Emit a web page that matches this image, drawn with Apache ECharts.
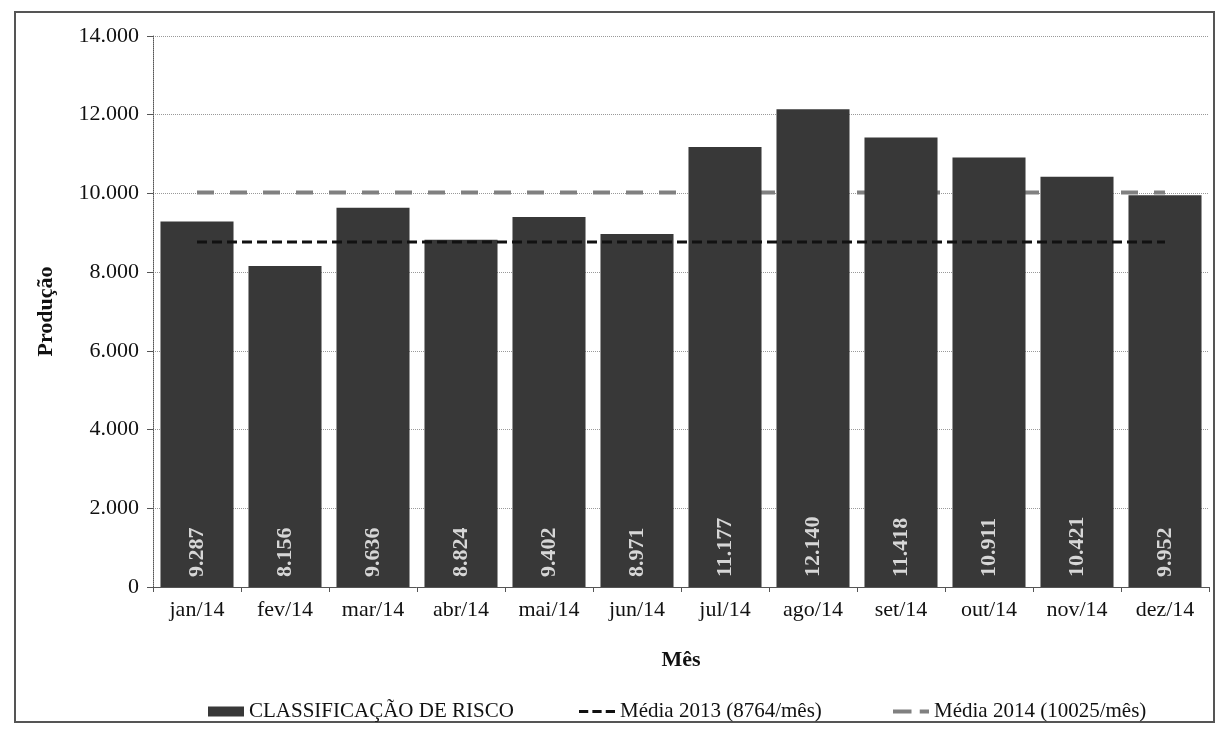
<!DOCTYPE html>
<html><head><meta charset="utf-8">
<script src="https://cdn.jsdelivr.net/npm/echarts@6/dist/echarts.min.js"></script>
<style>html,body{margin:0;padding:0;background:#fff}#c{width:1218px;height:732px}</style>
</head><body><div id="c"></div>
<script>
const categories = ['jan/14','fev/14','mar/14','abr/14','mai/14','jun/14','jul/14','ago/14','set/14','out/14','nov/14','dez/14'];
const producao = [9287, 8156, 9636, 8824, 9402, 8971, 11177, 12140, 11418, 10911, 10421, 9952];
const media2013 = [8764, 8764, 8764, 8764, 8764, 8764, 8764, 8764, 8764, 8764, 8764, 8764];
const media2014 = [10025, 10025, 10025, 10025, 10025, 10025, 10025, 10025, 10025, 10025, 10025, 10025];
const seriesNames = ['CLASSIFICAÇÃO DE RISCO', 'Média 2013 (8764/mês)', 'Média 2014 (10025/mês)'];

const fmt = v => String(v).replace(/\B(?=(\d{3})+(?!\d))/g, '.');
const F = '"Liberation Serif", "DejaVu Serif", serif';
const legendIcons = [
  'rect',
  'path://M0,0h9v3h-9z M13,0h9v3h-9z M26,0h9v3h-9z',
  'path://M0,0h18v4h-18z M26,0h9v4h-9z'
];
const legendLefts = [203, 574, 888];
const legends = seriesNames.map((n, i) => ({
  bottom: 5, left: legendLefts[i], itemWidth: 36, itemHeight: 10, itemGap: 10,
  textStyle: { fontFamily: F, fontSize: 21, color: '#111' },
  data: [{ name: n, icon: legendIcons[i] }]
}));
const chart = echarts.init(document.getElementById('c'));
chart.setOption({
  animation: false,
  textStyle: { fontFamily: F },
  graphic: [{ type: 'rect', shape: { x: 15, y: 12, width: 1199, height: 710 }, style: { fill: 'none', stroke: '#555', lineWidth: 2 } }],
  grid: { left: 153, right: 9, top: 36, bottom: 145 },
  legend: legends,
  xAxis: {
    type: 'category', data: categories,
    name: 'Mês', nameLocation: 'middle', nameGap: 62,
    nameTextStyle: { fontFamily: F, fontSize: 22, fontWeight: 'bold', color: '#111' },
    axisLine: { lineStyle: { color: '#555', width: 1 } },
    axisTick: { show: true, length: 5, lineStyle: { color: '#555' } },
    axisLabel: { fontFamily: F, fontSize: 22, color: '#111', margin: 12 }
  },
  yAxis: {
    type: 'value', min: 0, max: 14000, interval: 2000,
    name: 'Produção', nameLocation: 'middle', nameGap: 96, nameRotate: 90,
    nameTextStyle: { fontFamily: F, fontSize: 22, fontWeight: 'bold', color: '#111' },
    axisLine: { show: true, lineStyle: { color: '#555', type: 'dotted' } },
    axisTick: { show: true, length: 6, lineStyle: { color: '#555' } },
    axisLabel: { fontFamily: F, fontSize: 22, color: '#111', margin: 14, formatter: v => fmt(v) },
    splitLine: { lineStyle: { color: '#999', type: 'dotted' } }
  },
  series: [
    {
      name: seriesNames[0], type: 'bar', data: producao, barCategoryGap: '17%', z: 3,
      itemStyle: { color: '#383838' },
      label: {
        show: true, position: 'insideBottom', rotate: 90, align: 'left', verticalAlign: 'middle', distance: 10,
        color: '#d6d6d6', fontFamily: F, fontSize: 22, fontWeight: 'bold', formatter: p => fmt(p.value)
      }
    },
    {
      name: seriesNames[1], type: 'line', data: media2013, symbol: 'none', z: 5,
      lineStyle: { color: '#111', width: 3, type: [10, 5] }, itemStyle: { color: '#111' }
    },
    {
      name: seriesNames[2], type: 'line', data: media2014, symbol: 'none', z: 2,
      lineStyle: { color: '#808080', width: 4, type: [17, 16] }, itemStyle: { color: '#808080' }
    }
  ]
});
</script></body></html>
